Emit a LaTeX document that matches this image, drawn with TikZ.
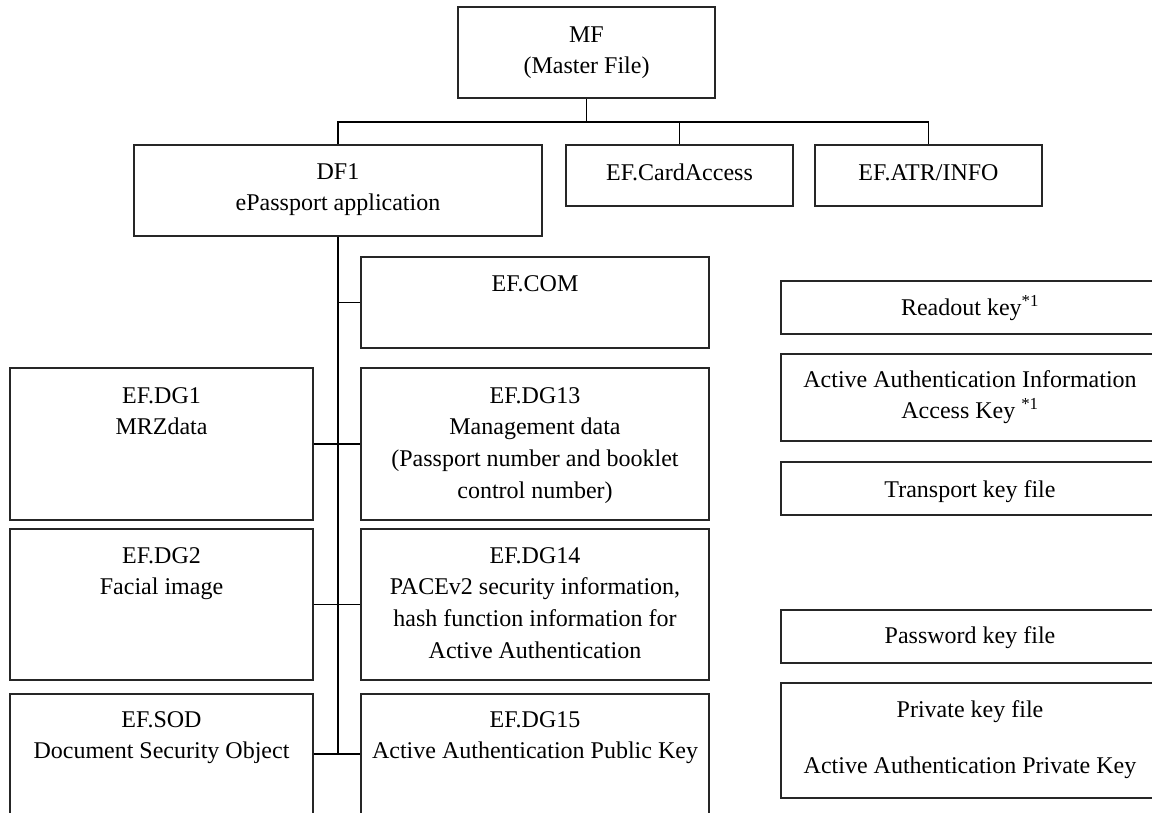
\documentclass[tikz,border=0pt]{standalone}
\usepackage{fontspec}
\setmainfont{Liberation Serif}
\usetikzlibrary{fit}
\begin{document}
\begin{tikzpicture}[x=1pt,y=-1pt,
  box/.style={draw=black!85, line width=1.2pt, inner sep=0pt},
  txt/.style={anchor=north, align=center, inner sep=0pt, font=\fontsize{24}{31.7}\selectfont},
  conn/.style={draw=black, line width=1.2pt}]
\useasboundingbox (0,0) rectangle (1152,812);
\clip (0,0) rectangle (1152,812);
% boxes
\node[box, fit={(458,7) (715,98)}] (mf) {};
\node[box, fit={(134,145) (542,236)}] (df1) {};
\node[box, fit={(566,145) (793,206)}] (card) {};
\node[box, fit={(815,145) (1042,206)}] (atr) {};
\node[box, fit={(361,257) (709,348)}] (com) {};
\node[box, fit={(10,368) (313,520)}] (dg1) {};
\node[box, fit={(361,368) (709,520)}] (dg13) {};
\node[box, fit={(10,529) (313,680)}] (dg2) {};
\node[box, fit={(361,529) (709,680)}] (dg14) {};
\node[box, fit={(10,694) (313,814)}] (sod) {};
\node[box, fit={(361,694) (709,814)}] (dg15) {};
\node[box, fit={(781,281) (1160,334)}] (readout) {};
\node[box, fit={(781,354) (1160,441)}] (aainfo) {};
\node[box, fit={(781,462) (1160,515)}] (transport) {};
\node[box, fit={(781,610) (1160,663)}] (password) {};
\node[box, fit={(781,683) (1160,798)}] (private) {};
% texts
\node[txt] (mfT) at (586.5,19.8) {\strut MF\\(Master File)};
\node[txt] (df1T) at (338,156.8) {\strut DF1\\ePassport application};
\node[txt] (cardT) at (679.5,157.8) {\strut EF.CardAccess};
\node[txt] (atrT) at (928.5,157.8) {\strut EF.ATR/INFO};
\node[txt] (comT) at (535,268.8) {\strut EF.COM};
\node[txt] (dg1T) at (161.5,380.8) {\strut EF.DG1\\MRZdata};
\node[txt] (dg13T) at (535,380.8) {\strut EF.DG13\\Management data\\(Passport number and booklet\\control number)};
\node[txt] (dg2T) at (161.5,540.8) {\strut EF.DG2\\Facial image};
\node[txt] (dg14T) at (535,540.8) {\strut EF.DG14\\PACEv2 security information,\\hash function information for\\Active Authentication};
\node[txt] (sodT) at (161.5,704.8) {\strut EF.SOD\\Document Security Object};
\node[txt] (dg15T) at (535,704.8) {\strut EF.DG15\\Active Authentication Public Key};
\node[txt] (readoutT) at (970,292.8) {\strut Readout key\textsuperscript{*1}};
\node[txt] (aainfoT) at (970,364.8) {\strut Active Authentication Information\\Access Key \textsuperscript{*1}};
\node[txt] (transportT) at (970,474.8) {\strut Transport key file};
\node[txt] (passwordT) at (970,620.8) {\strut Password key file};
\node[txt] (privateT) at (970,694.8) {\strut Private key file\\[24.3pt]Active Authentication Private Key};
% connectors
\coordinate (bus) at (0,122);
\draw[conn] (mf.south) -- (mf.south |- bus);
\draw[conn] (df1.north) |- (bus -| atr.north) -- (atr.north);
\draw[conn] (card.north) -- (card.north |- bus);
\draw[conn] (df1.south) -- (df1.south |- sod.east);
\draw[conn] (df1.south |- com.west) -- (com.west);
\draw[conn] (dg1.east) -- (dg13.west);
\draw[conn] (dg2.east) -- (dg14.west);
\draw[conn] (sod.east) -- (dg15.west);
\end{tikzpicture}
\end{document}
